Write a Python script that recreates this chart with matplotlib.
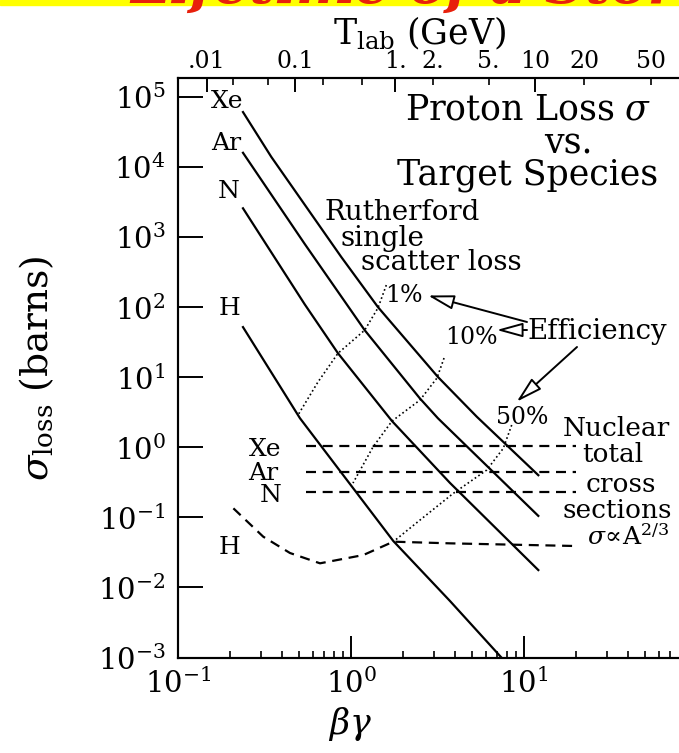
import numpy as np
import matplotlib.pyplot as plt
from matplotlib.patches import Rectangle
from matplotlib.ticker import NullLocator, FixedLocator, FixedFormatter

plt.rcParams['font.family'] = 'DejaVu Serif'
plt.rcParams['mathtext.fontset'] = 'dejavuserif'

# Rutherford single scatter loss cross sections (barns) vs beta*gamma
xe_bg = [0.2375, 0.346, 0.879, 1.433, 3.18, 5.33, 12.1]
xe_sig = [6.1e4, 1.4e4, 520, 100, 10.1, 2.74, 0.40]
ar_bg = [0.2375, 0.54, 1.20, 2.5, 3.18, 12.1]
ar_sig = [1.6e4, 800, 47, 5.0, 2.6, 0.105]
n_bg = [0.2375, 0.54, 0.841, 1.726, 3.735, 12.1]
n_sig = [2580, 110, 22, 2.37, 0.31, 0.0177]
h_bg = [0.2375, 0.507, 1.756, 3.735, 7.4]
h_sig = [52, 2.6, 0.046, 0.0064, 1.0e-3]

# nuclear total cross sections
nuc_bg = [0.55, 20]
nuc_xe = 1.04
nuc_ar = 0.45
nuc_n = 0.232
hnuc_bg = [0.209, 0.311, 0.444, 0.662, 1.178, 1.756, 3.735, 20.2]
hnuc_sig = [0.1346, 0.053, 0.031, 0.0221, 0.029, 0.045, 0.0426, 0.039]

# constant-efficiency contours
eff1_bg = [1.60, 1.433, 1.20, 0.841, 0.644, 0.494]
eff1_sig = [207, 98, 47, 22, 8.55, 2.89]
eff10_bg = [3.45, 3.14, 2.505, 1.726, 1.34, 1.027]
eff10_sig = [18.8, 9.75, 4.73, 2.37, 1.01, 0.309]
eff50_bg = [8.49, 7.59, 6.09, 3.90, 2.505, 1.756]
eff50_sig = [2.08, 0.968, 0.474, 0.220, 0.0916, 0.045]

# kinetic energy scale on top (GeV)
t_major = [0.01, 0.1, 1, 10]
t_major_lbl = ['.01', '0.1', '1.', '10']
t_minor = [0.02, 0.05, 0.2, 0.5, 2, 5, 20, 50]
t_minor_lbl = ['', '', '', '', '2.', '5.', '20', '50']
m_p = 0.938


def t_to_bg(t):
    g = 1 + np.asarray(t) / m_p
    return np.sqrt(g**2 - 1)


W, H = 679, 753


def px(x, y):
    return x / W, 1 - y / H


fig = plt.figure(figsize=(W / 100, H / 100), dpi=100)
ax = fig.add_axes([178 / W, 1 - 657.5 / H, 519 / W, 580 / H])
ax.set_xscale('log')
ax.set_yscale('log')
ax.set_xlim(0.1, 100)
ax.set_ylim(1e-3, 1.9e5)

lw = 1.6
for bg, sig in [(xe_bg, xe_sig), (ar_bg, ar_sig), (n_bg, n_sig), (h_bg, h_sig)]:
    ax.plot(bg, sig, color='black', lw=lw)

dash = (4.5, 3)
for s in [nuc_xe, nuc_ar, nuc_n]:
    ax.plot(nuc_bg, [s, s], color='black', lw=lw, dashes=dash)
ax.plot(hnuc_bg, hnuc_sig, color='black', lw=lw, dashes=dash)

for bg, sig in [(eff1_bg, eff1_sig), (eff10_bg, eff10_sig), (eff50_bg, eff50_sig)]:
    ax.plot(bg, sig, color='black', lw=1.2, ls=(0, (1, 1.6)))

# axes styling
for sp in ax.spines.values():
    sp.set_linewidth(1.5)
ax.xaxis.set_major_locator(FixedLocator([0.1, 1, 10]))
ax.yaxis.set_major_locator(FixedLocator([10.0**k for k in range(-3, 6)]))
ax.yaxis.set_minor_locator(NullLocator())
ax.tick_params(axis='y', which='major', direction='in', length=18, width=1.4,
               labelsize=21, pad=9, right=False)
ax.tick_params(axis='x', which='major', direction='in', length=16, width=1.4,
               labelsize=21, pad=8, top=False)
ax.tick_params(axis='x', which='minor', direction='in', length=5, width=1.2,
               top=False)

ax2 = ax.twiny()
ax2.set_xscale('log')
ax2.set_xlim(ax.get_xlim())
ax2.xaxis.set_major_locator(FixedLocator(t_to_bg(t_major)))
ax2.xaxis.set_major_formatter(FixedFormatter(t_major_lbl))
ax2.xaxis.set_minor_locator(FixedLocator(t_to_bg(t_minor)))
ax2.xaxis.set_minor_formatter(FixedFormatter(t_minor_lbl))
ax2.tick_params(axis='x', which='major', direction='in', length=10, width=1.4,
                labelsize=17, pad=3)
ax2.tick_params(axis='x', which='minor', direction='in', length=5, width=1.2,
                labelsize=17, pad=3)
for sp in ax2.spines.values():
    sp.set_linewidth(1.5)

# axis titles
fig.text(*px(37, 368), r'$\sigma_{\rm loss}$ (barns)', rotation=90,
         ha='center', va='center', fontsize=27)
fig.text(*px(350, 724), r'$\beta\gamma$', ha='center', va='center', fontsize=25)
fig.text(*px(420, 34), r'T$_{\rm lab}$ (GeV)', ha='center', va='center', fontsize=25)

# species labels
for lbl, x, y in [('Xe', 227, 101), ('Ar', 226, 143), ('N', 229, 191),
                  ('H', 229, 308), ('Xe', 265, 449), ('Ar', 263, 474),
                  ('N', 271, 496), ('H', 229, 548)]:
    fig.text(*px(x, y), lbl, ha='center', va='center', fontsize=18)

fig.text(*px(528, 110), r'Proton Loss $\sigma$', ha='center', va='center', fontsize=25)
fig.text(*px(568, 143), 'vs.', ha='center', va='center', fontsize=25)
fig.text(*px(528, 175), 'Target Species', ha='center', va='center', fontsize=25)

fig.text(*px(402, 212), 'Rutherford', ha='center', va='center', fontsize=20)
fig.text(*px(382, 238), 'single', ha='center', va='center', fontsize=20)
fig.text(*px(441, 262), 'scatter loss', ha='center', va='center', fontsize=20)

fig.text(*px(404, 295), '1%', ha='center', va='center', fontsize=17)
fig.text(*px(471, 337), '10%', ha='center', va='center', fontsize=17)
fig.text(*px(522, 418), '50%', ha='center', va='center', fontsize=17)
fig.text(*px(597, 331), 'Efficiency', ha='center', va='center', fontsize=20)

fig.text(*px(616, 428), 'Nuclear', ha='center', va='center', fontsize=19)
fig.text(*px(613, 455), 'total', ha='center', va='center', fontsize=19)
fig.text(*px(621, 484), 'cross', ha='center', va='center', fontsize=19)
fig.text(*px(617, 511), 'sections', ha='center', va='center', fontsize=19)
fig.text(*px(628, 537), r'$\sigma\!\propto\!$A$^{2/3}$', ha='center', va='center', fontsize=18)

# arrows from the efficiency label
arrow = dict(arrowstyle='-|>,head_length=0.8,head_width=0.22', fc='white',
             ec='black', lw=1.4, mutation_scale=20, shrinkA=0, shrinkB=0)
for tip, tail in [((428, 295.5), (527, 322)), ((496.7, 330), (527, 330)),
                  ((516.7, 401.7), (577, 347))]:
    ax.annotate('', xy=px(*tip), xycoords='figure fraction',
                xytext=px(*tail), textcoords='figure fraction',
                arrowprops=arrow)

# slide title band along the top edge
fig.add_artist(Rectangle((0, 1 - 5 / H), 1, 5 / H, transform=fig.transFigure,
                         color='#ffff00', zorder=0))
fig.text(*px(130, 3), 'Lifetime of a Stored Beam', color='#e8200c',
         fontsize=40, fontweight='bold', style='italic', va='baseline', ha='left')

fig.savefig('out.png', dpi=100)
